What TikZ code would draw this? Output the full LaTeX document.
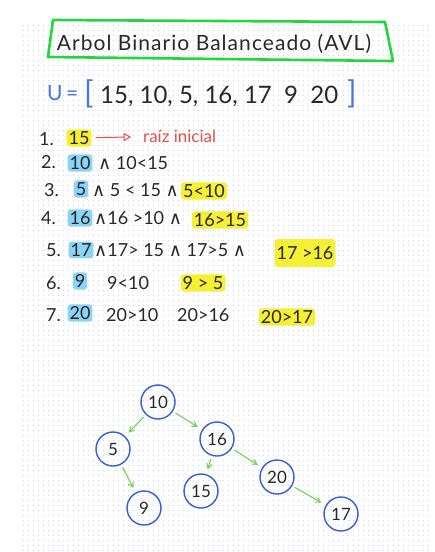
\documentclass[tikz,border=0pt]{standalone}
\usepackage{fontspec}
\usepackage{amsmath}
\usepackage{amssymb}
\setmainfont{Lato}
\newfontfamily\symf{DejaVu Sans}
\usetikzlibrary{arrows,patterns}
\definecolor{boxgreen}{RGB}{34,214,62}
\definecolor{arrowgreen}{RGB}{110,214,84}
\definecolor{treeblue}{RGB}{52,92,224}
\definecolor{penblue}{RGB}{72,118,226}
\definecolor{penred}{RGB}{226,80,70}
\definecolor{hlyellow}{RGB}{246,240,52}
\definecolor{hlcyan}{RGB}{140,212,246}
\definecolor{ink}{RGB}{40,40,40}
\definecolor{griddot}{RGB}{206,208,238}
\newcommand{\yy}{{\symf ∧}}
\pgfdeclarepatternformonly{griddots}{\pgfpointorigin}{\pgfpoint{5.4pt}{5.4pt}}{\pgfpoint{5.4pt}{5.4pt}}
{\pgfpathcircle{\pgfpoint{2.7pt}{2.7pt}}{0.6pt}\pgfusepath{fill}}

\begin{document}
\begin{tikzpicture}
			[x=1pt,y=-1pt,
			txt/.style={anchor=west,inner sep=1pt,text=ink,font=\fontsize{18}{18}\selectfont},
			hly/.style={txt,anchor=center,fill=hlyellow,rounded corners=3pt,inner sep=2pt},
			hlc/.style={txt,anchor=center,fill=hlcyan,rounded corners=3pt,inner sep=2pt},
			vert/.style={circle,draw=treeblue,line width=1.4pt,minimum size=34pt,inner sep=0pt,text=ink,font=\fontsize{17}{17}\selectfont},
			edge/.style={->,> = angle 60,draw=arrowgreen,line width=1.1pt,shorten >=5pt,shorten <=3pt}]
			\useasboundingbox (0,0) rectangle (435,552);
			% dot grid
			\fill[pattern=griddots,pattern color=griddot] (20,25) rectangle (432,552);

			% title
			\draw[boxgreen,line width=2.6pt,line join=round] (53,20) -- (385,22) -- (393,61) -- (48,57) -- cycle;
			\node[txt,anchor=center,font=\fontsize{21}{21}\selectfont\addfontfeature{LetterSpace=5}] (title) at (214,44) {Arbol Binario Balanceado (AVL)};

			% list U
			\node[txt,text=penblue,font=\fontsize{21}{21}\selectfont] (u) at (46,93) {U\,=};
			\node[txt,text=penblue,font=\fontsize{31}{31}\selectfont] (lb) at (83,94) {[};
			\node[txt,font=\fontsize{24}{24}\selectfont] (vals) at (99,96) {15, 10, 5, 16, 17 \ 9 \ 20};
			\node[txt,text=penblue,font=\fontsize{31}{31}\selectfont] (rb) at (346,94) {]};

			% steps
			\node[txt] (s1) at (38,139) {1.};
			\node[hly] (a1) at (79,138) {15};
			\node[txt,text=penred,font=\fontsize{17}{17}\selectfont] (r1) at (142,136) {raíz inicial};
			\draw[penred,line width=1pt,-open triangle 60,shorten >=11pt,shorten <=4pt] (a1) -- (r1);

			\node[txt] (s2) at (40,162) {2.};
			\node[hlc] (a2) at (80,163) {10};
			\node[txt] (b2) at (97,163) {\yy\ 10<15};

			\node[txt] (s3) at (43,190) {3.};
			\node[hlc] (a3) at (81,189) {5};
			\node[txt] (b3) at (91,190) {\yy\ 5 < 15 \yy};
			\node[hly] (c3) at (204,191) {5<10};

			\node[txt] (s4) at (40,218) {4.};
			\node[hlc] (a4) at (80,218) {16};
			\node[txt] (b4) at (93,218) {\yy 16 >10 \yy};
			\node[hly] (c4) at (220,220) {16>15};

			\node[txt] (s5) at (45,250) {5.};
			\node[hlc] (a5) at (81,250) {17};
			\node[txt] (b5) at (93,250) {\yy 17> 15 \yy\ 17>5 \yy};
			\node[hly,minimum height=28pt] (c5) at (305,253) {17 >16};

			\node[txt] (s6) at (45,283) {6.};
			\node[hlc] (a6) at (80,281) {9};
			\node[txt] (b6) at (106,283) {9<10};
			\node[hly] (c6) at (203,283) {9 > 5};

			\node[txt] (s7) at (45,315) {7.};
			\node[hlc] (a7) at (80,313) {20};
			\node[txt] (b7) at (105,315) {20>10};
			\node[txt] (d7) at (176,315) {20>16};
			\node[hly] (c7) at (287,317) {20>17};

			% tree
			\node[vert] (n10) at (158,402) {10};
			\node[vert] (n5) at (113,449) {5};
			\node[vert] (n16) at (217,439) {16};
			\node[vert] (n9) at (144,508) {9};
			\node[vert] (n15) at (201,491) {15};
			\node[vert] (n20) at (277,477) {20};
			\node[vert] (n17) at (341,514) {17};

			\foreach \from/\to in {n10/n5,n10/n16,n5/n9,n16/n15,n16/n20,n20/n17}
			\draw[edge] (\from) to (\to);

			\end{tikzpicture}
\end{document}
